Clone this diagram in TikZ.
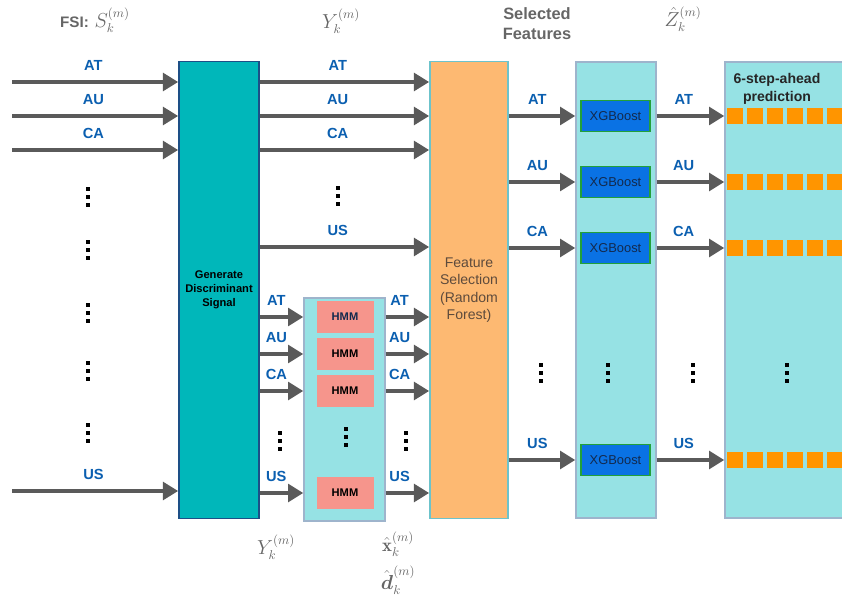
\documentclass[tikz,border=0pt]{standalone}
\usepackage{amsmath}
\usepackage{fontspec}
\setsansfont{Liberation Sans}
\usetikzlibrary{arrows.meta,positioning}
\definecolor{dsteal}{HTML}{00B7BA}
\definecolor{dsnavy}{HTML}{1D4F86}
\definecolor{dscyan}{HTML}{96E2E4}
\definecolor{dsframe}{HTML}{9EB4CC}
\definecolor{dsorange}{HTML}{FDB972}
\definecolor{dsedge}{HTML}{6CC3CB}
\definecolor{dsblue}{HTML}{0A72E4}
\definecolor{dsgreen}{HTML}{22A03A}
\definecolor{dssalmon}{HTML}{F6958C}
\definecolor{dssquare}{HTML}{FF9500}
\definecolor{dslabel}{HTML}{0B5FB0}
\definecolor{dsarrow}{HTML}{5A5A5A}
\definecolor{dsgray}{HTML}{666666}
\definecolor{dsink}{HTML}{132A4E}
\definecolor{dsbrown}{HTML}{5E4B3C}

\begin{document}
\begin{tikzpicture}[
  x=0.03cm, y=-0.03cm,
  font=\sffamily,
  blk/.style={line width=1.4pt,inner sep=2pt,align=center,minimum width=2.4cm,minimum height=13.7cm},
  col/.style={fill=dscyan,draw=dsframe,line width=1.2pt,inner sep=0pt},
  xgb/.style={fill=dsblue,draw=dsgreen,line width=1.2pt,minimum width=2.07cm,minimum height=0.93cm,inner sep=0pt,
    text=dsink,font=\sffamily\fontsize{11}{13}\selectfont},
  hmm/.style={fill=dssalmon,minimum width=1.71cm,minimum height=0.96cm,inner sep=0pt,
    font=\sffamily\bfseries\fontsize{9.5}{11}\selectfont},
  lab/.style={text=dslabel,inner sep=1pt,font=\sffamily\bfseries\fontsize{12.5}{14}\selectfont},
  mth/.style={text=dsgray,inner sep=0pt,font=\fontsize{16}{18}\selectfont},
  fl/.style={-{Triangle[length=13pt,width=15pt]},dsarrow,line width=3.4pt},
  vdts/.pic={\foreach \d in {-8,0,8} \fill (-1.8,\d-1.8) rectangle (1.8,\d+1.8);}]
\useasboundingbox (0,0) rectangle (842,598);
% headings
\node[mth] (fsi) at (95,20) {\textbf{\sffamily\fontsize{13}{15}\selectfont FSI:} $S_k^{(m)}$};
\node[mth] (ytop) at (341,21) {$Y_k^{(m)}$};
\node[text=dsgray,align=center,inner sep=0pt,font=\sffamily\bfseries\fontsize{14}{17}\selectfont] (sel) at (537,24) {Selected\\Features};
\node[mth] (ztop) at (683,19) {$\hat{Z}_k^{(m)}$};
% blocks
\node[blk,fill=dsteal,draw=dsnavy,font=\sffamily\bfseries\fontsize{9.5}{12}\selectfont] (gen) at (219,290) {Generate\\Discriminant\\Signal};
\node[col,minimum width=2.43cm,minimum height=6.69cm] (hcol) at (344.5,409.5) {};
\node[blk,fill=dsorange,draw=dsedge,text=dsbrown,minimum width=2.34cm,font=\sffamily\fontsize{12}{15}\selectfont] (fs) at (469,290) {Feature\\Selection\\(Random\\Forest)};
\node[col,minimum width=2.4cm,minimum height=13.68cm] (xcol) at (616,290) {};
\node[col,minimum width=3.75cm,minimum height=13.68cm] (pcol) at (787.5,290) {};
\node[inner sep=0pt,align=center,text=black!85,font=\sffamily\bfseries\fontsize{12}{15}\selectfont] (pred) at (777,89) {6-step-ahead\\prediction};
% hmm stack
\node[hmm,text=dsink] (h1) at (345,317) {HMM};
\node[hmm] (h2) at (345,354) {HMM};
\node[hmm] (h3) at (345,391) {HMM};
\node[hmm] (h4) at (345,493) {HMM};
% xgboost stack
\node[xgb] (g1) at (615.5,116) {XGBoost};
\node[xgb] (g2) at (615.5,182) {XGBoost};
\node[xgb] (g3) at (615.5,248) {XGBoost};
\node[xgb] (g4) at (615.5,460) {XGBoost};
% inputs
\coordinate (in1) at (12,82);
\coordinate (in2) at (12,116);
\coordinate (in3) at (12,150);
\coordinate (in4) at (12,491);
\coordinate (u4) at (300,247);
\draw[fl] (in1) -- node[lab,above=7pt,pos=0.49]{AT} (gen.west |- in1);
\draw[fl] (in2) -- node[lab,above=7pt,pos=0.49]{AU} (gen.west |- in2);
\draw[fl] (in3) -- node[lab,above=7pt,pos=0.49]{CA} (gen.west |- in3);
\draw[fl] (in4) -- node[lab,above=7pt,pos=0.49]{US} (gen.west |- in4);
% discriminant signal to feature selection
\draw[fl] (gen.east |- in1) -- node[lab,above=7pt,pos=0.46]{AT} (fs.west |- in1);
\draw[fl] (gen.east |- in2) -- node[lab,above=7pt,pos=0.46]{AU} (fs.west |- in2);
\draw[fl] (gen.east |- in3) -- node[lab,above=7pt,pos=0.46]{CA} (fs.west |- in3);
\draw[fl] (gen.east |- u4) -- node[lab,above=7pt,pos=0.46]{US} (fs.west |- u4);
% through the hmm stack
\draw[fl] (gen.east |- h1) -- node[lab,above=7pt,pos=0.38]{AT} (hcol.west |- h1);
\draw[fl] (gen.east |- h2) -- node[lab,above=7pt,pos=0.38]{AU} (hcol.west |- h2);
\draw[fl] (gen.east |- h3) -- node[lab,above=7pt,pos=0.38]{CA} (hcol.west |- h3);
\draw[fl] (gen.east |- h4) -- node[lab,above=7pt,pos=0.38]{US} (hcol.west |- h4);
\draw[fl] (hcol.east |- h1) -- node[lab,above=7pt,pos=0.32]{AT} (fs.west |- h1);
\draw[fl] (hcol.east |- h2) -- node[lab,above=7pt,pos=0.32]{AU} (fs.west |- h2);
\draw[fl] (hcol.east |- h3) -- node[lab,above=7pt,pos=0.32]{CA} (fs.west |- h3);
\draw[fl] (hcol.east |- h4) -- node[lab,above=7pt,pos=0.32]{US} (fs.west |- h4);
% selected features to xgboost to prediction
\draw[fl] (fs.east |- g1) -- node[lab,above=7pt,pos=0.43]{AT} (xcol.west |- g1);
\draw[fl] (fs.east |- g2) -- node[lab,above=7pt,pos=0.43]{AU} (xcol.west |- g2);
\draw[fl] (fs.east |- g3) -- node[lab,above=7pt,pos=0.43]{CA} (xcol.west |- g3);
\draw[fl] (fs.east |- g4) -- node[lab,above=7pt,pos=0.43]{US} (xcol.west |- g4);
\draw[fl] (xcol.east |- g1) -- node[lab,above=7pt,pos=0.4]{AT} (pcol.west |- g1);
\draw[fl] (xcol.east |- g2) -- node[lab,above=7pt,pos=0.4]{AU} (pcol.west |- g2);
\draw[fl] (xcol.east |- g3) -- node[lab,above=7pt,pos=0.4]{CA} (pcol.west |- g3);
\draw[fl] (xcol.east |- g4) -- node[lab,above=7pt,pos=0.4]{US} (pcol.west |- g4);
% prediction squares
\foreach \yy in {116,182,248,460}
  \foreach \i in {0,...,5}
    \fill[dssquare] (727+20*\i,\yy-8) rectangle ++(16,16);
% ellipses
\foreach \p in {(88,197),(88,250),(88,313),(88,371),(88,433),(338,196),(280,441),(346,437),(406,441),
  (541,373),(608,373),(693,373),(787,373)}
  \pic at \p {vdts};
% bottom labels
\node[mth] (ybot) at (276,547) {$Y_k^{(m)}$};
\node[mth] (xbot) at (398,544) {$\hat{\mathbf{x}}_k^{(m)}$};
\node[mth] (dbot) at (398,580) {$\hat{\boldsymbol{d}}_k^{(m)}$};
\end{tikzpicture}
\end{document}
